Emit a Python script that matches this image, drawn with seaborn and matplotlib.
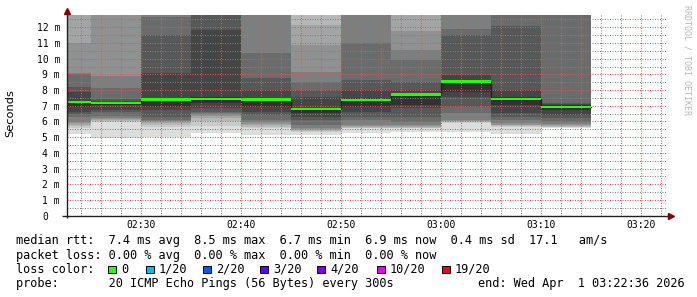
import matplotlib
matplotlib.use("Agg")
import matplotlib.pyplot as plt
import matplotlib.transforms as mtransforms
from matplotlib.patches import Rectangle
from matplotlib.ticker import FixedLocator
import numpy as np
import pandas as pd
import seaborn as sns

# ---------------- data (milliseconds) ----------------
segment_end = ["02:25", "02:30", "02:35", "02:40", "02:45", "02:50",
               "02:55", "03:00", "03:05", "03:10", "03:15"]
median_rtt = [7.26, 7.18, 7.41, 7.45, 7.39, 6.78, 7.35, 7.71, 8.54, 7.45, 6.94]

# 20 sorted ping round-trip times per 5-minute step
ping_0225 = [5.20, 5.59, 5.70, 5.78, 5.90, 5.99, 6.31, 6.50, 6.62, 6.94,
             7.30, 7.88, 8.20, 9.03, 9.06, 11.00, 13.2, 13.8, 14.6, 16.0]
ping_0230 = [4.93, 5.99, 6.03, 6.08, 6.14, 6.25, 6.35, 6.60, 6.73, 7.05,
             7.22, 7.32, 7.40, 8.15, 8.90, 13.3, 14.0, 14.8, 15.5, 17.0]
ping_0235 = [5.03, 5.67, 5.80, 5.90, 6.00, 6.05, 6.10, 6.31, 6.73, 6.94,
             7.50, 9.07, 11.50, 12.66, 13.4, 14.0, 14.7, 15.4, 16.2, 17.5]
ping_0240 = [5.25, 5.71, 6.05, 6.20, 6.35, 6.45, 6.55, 6.62, 6.86, 7.18,
             7.55, 11.80, 13.3, 13.9, 14.5, 15.2, 16.0, 17.0, 18.2, 20.0]
ping_0245 = [5.14, 5.57, 5.65, 5.78, 5.85, 5.95, 6.10, 6.41, 6.62, 6.94,
             7.48, 8.00, 8.75, 10.34, 13.2, 13.9, 14.6, 15.3, 16.1, 17.3]
ping_0250 = [5.14, 5.35, 5.40, 5.45, 5.50, 5.57, 5.78, 6.10, 6.30, 6.52,
             6.85, 7.58, 8.00, 8.54, 9.17, 10.87, 12.15, 13.5, 14.3, 15.6]
ping_0255 = [5.25, 5.57, 5.60, 5.65, 5.70, 5.78, 6.10, 6.31, 6.62, 6.94,
             7.48, 8.00, 8.64, 10.98, 13.3, 13.9, 14.6, 15.4, 16.3, 17.8]
ping_0300 = [5.30, 5.57, 5.60, 5.65, 5.70, 5.78, 5.99, 6.31, 6.84, 7.05,
             7.80, 8.00, 8.54, 9.92, 10.55, 11.78, 13.4, 14.1, 14.9, 16.0]
ping_0305 = [5.35, 5.89, 5.95, 6.00, 6.05, 6.10, 6.52, 6.94, 7.54, 7.90,
             8.60, 8.96, 11.50, 11.90, 13.3, 14.0, 14.8, 15.6, 16.5, 18.0]
ping_0310 = [5.20, 5.67, 5.70, 5.75, 5.80, 5.89, 6.10, 6.31, 6.52, 7.05,
             7.54, 8.00, 12.08, 13.4, 14.0, 14.7, 15.5, 16.3, 17.2, 18.5]
ping_0315 = [5.57, 5.62, 5.67, 5.72, 5.78, 5.85, 5.99, 6.20, 6.41, 6.73,
             7.05, 7.10, 7.16, 13.4, 14.0, 14.7, 15.5, 16.3, 17.2, 18.5]
pings_by_segment = [ping_0225, ping_0230, ping_0235, ping_0240, ping_0245, ping_0250,
                    ping_0255, ping_0300, ping_0305, ping_0310, ping_0315]

window_start = "02:22:36"
window_end = "03:22:36"
x_tick_times = ["02:30", "02:40", "02:50", "03:00", "03:10", "03:20"]
y_tick_values = [0, 1, 2, 3, 4, 5, 6, 7, 8, 9, 10, 11, 12]
y_tick_labels = ["0", "1 m", "2 m", "3 m", "4 m", "5 m", "6 m", "7 m", "8 m",
                 "9 m", "10 m", "11 m", "12 m"]

loss_labels = ["0", "1/20", "2/20", "3/20", "4/20", "10/20", "19/20"]
loss_colors = ["#26ff00", "#00b8ff", "#0059ff", "#5e00ff", "#7e00ff", "#dd00ff", "#ff0000"]

legend_rtt = "median rtt:  7.4 ms avg  8.5 ms max  6.7 ms min  6.9 ms now  0.4 ms sd  17.1   am/s"
legend_loss = "packet loss: 0.00 % avg  0.00 % max  0.00 % min  0.00 % now"
legend_probe = "probe:       20 ICMP Echo Pings (56 Bytes) every 300s"
legend_end = "end: Wed Apr  1 03:22:36 2026"


def to_min(s):
    parts = [int(p) for p in s.split(":")]
    while len(parts) < 3:
        parts.append(0)
    return parts[0] * 60 + parts[1] + parts[2] / 60.0


# ---------------- figure ----------------
sns.set_theme(style="white")
plt.rcParams["font.family"] = ["DejaVu Sans Mono", "DejaVu Sans"]

W, H = 697, 297
fig = plt.figure(figsize=(W / 100, H / 100), dpi=100, facecolor="white")
ax = fig.add_axes([66.7 / W, (H - 215.7) / H, 600 / W, 200.7 / H])
ax.set_facecolor("white")

ends = np.array([to_min(e) for e in segment_end])
starts = ends - 5
x_edges = np.append(starts, ends[-1])
P = np.sort(np.array(pings_by_segment), axis=1)
n = P.shape[1]
half = n // 2

# smoke: bands between ping i and ping n+1-i, darker toward the centre
for ibot in range(1, half + 1):
    itop = n + 1 - ibot
    g = int(190 / half * (half - ibot)) + 50
    col = "#%02x%02x%02x" % (g, g, g)
    lo = np.append(P[:, ibot - 1], P[-1, ibot - 1])
    hi = np.append(P[:, itop - 1], P[-1, itop - 1])
    ax.fill_between(x_edges, lo, hi, step="post", color=col, lw=0,
                    antialiased=False, zorder=1)

med = np.array(median_rtt)
med_ext = np.append(med, med[-1])
med_df = pd.DataFrame({"t": x_edges, "median": med_ext})
sns.lineplot(data=med_df, x="t", y="median", drawstyle="steps-post",
             color="#202020", lw=1.0, ax=ax, zorder=3)
sw = 0.075
ax.fill_between(x_edges, med_ext - sw, med_ext + sw, step="post",
                color=loss_colors[0], lw=0, antialiased=False, zorder=4)

ax.set_xlim(to_min(window_start), to_min(window_end))
ax.set_ylim(0, 12.78)
ax.set_xlabel("")
ax.set_ylabel("")

ax.xaxis.set_major_locator(FixedLocator([to_min(t) for t in x_tick_times]))
ax.xaxis.set_minor_locator(FixedLocator(np.arange(144, 203, 2)))
ax.set_xticklabels(x_tick_times)
ax.yaxis.set_major_locator(FixedLocator(y_tick_values))
ax.yaxis.set_minor_locator(FixedLocator(np.arange(0.5, 12.8, 1.0)))
ax.set_yticklabels(y_tick_labels)

for s in ax.spines.values():
    s.set_visible(False)

ax.grid(which="major", color=(0.95, 0.3, 0.3, 0.38), lw=0.72, ls=(0, (1, 1.5)))
ax.grid(which="minor", color=(0.5, 0.5, 0.5, 0.33), lw=0.72, ls=(0, (1, 1.5)))
ax.set_axisbelow(False)

ax.tick_params(which="both", direction="in", length=2, width=0.7, color="#202020",
               labelsize=7, labelcolor="black")
ax.tick_params(axis="y", which="major", pad=4.8)
ax.tick_params(axis="x", which="major", pad=3.0)
ax.tick_params(which="minor", length=1.5)

# shift the "0" label so it lines up with the digit of "1 m"
for tl in ax.get_yticklabels():
    if tl.get_text() == "0":
        tl.set_transform(tl.get_transform() +
                         mtransforms.ScaledTranslation(-11.7 / 100, 0, fig.dpi_scale_trans))

# axes with arrows
axis_col = "#202020"
arrow_col = "#7f0000"
ax.plot([0, 0], [-0.01, 1.02], transform=ax.transAxes, color=axis_col, lw=1.0,
        clip_on=False, zorder=6, solid_capstyle="butt")
ax.plot([-0.008, 1.006], [0, 0], transform=ax.transAxes, color=axis_col, lw=1.0,
        clip_on=False, zorder=6, solid_capstyle="butt")
ax.plot([0], [(215.7 - 10.5) / 200.7], transform=ax.transAxes, marker="^", ms=4.2,
        color=arrow_col, mec=arrow_col, clip_on=False, zorder=7)
ax.plot([(670.5 - 66.7) / 600], [0], transform=ax.transAxes, marker=">", ms=4.2,
        color=arrow_col, mec=arrow_col, clip_on=False, zorder=7)

# labels
fig.text(10 / W, 1 - 113 / H, "Seconds", rotation=90, ha="center", va="center",
         fontsize=8.2, family=["DejaVu Sans"], color="black")
fig.text(687.5 / W, 1 - 5 / H, "RRDTOOL / TOBI OETIKER", rotation=270, ha="center",
         va="top", fontsize=6.0, color="#b8b8b8")

# legend
lfs = 8.6
fig.text(16 / W, 1 - 240.7 / H, legend_rtt, ha="left", va="center", fontsize=lfs, color="black")
fig.text(16 / W, 1 - 255.0 / H, legend_loss, ha="left", va="center", fontsize=lfs, color="black")
fig.text(16 / W, 1 - 269.3 / H, "loss color:", ha="left", va="center", fontsize=lfs, color="black")
fig.text(16 / W, 1 - 283.7 / H, legend_probe, ha="left", va="center", fontsize=lfs, color="black")
fig.text(478.5 / W, 1 - 283.7 / H, legend_end, ha="left", va="center", fontsize=lfs, color="black")

box_x = [108, 146, 203, 260, 317, 377, 442]
for bx, lab, c in zip(box_x, loss_labels, loss_colors):
    fig.add_artist(Rectangle((bx / W, 1 - 273 / H), 7.5 / W, 7.5 / H,
                             transform=fig.transFigure, facecolor=c,
                             edgecolor="black", lw=0.7))
    fig.text((bx + 13) / W, 1 - 269.3 / H, lab, ha="left", va="center",
             fontsize=lfs, color="black")

fig.savefig("out.png", dpi=100, facecolor="white")
